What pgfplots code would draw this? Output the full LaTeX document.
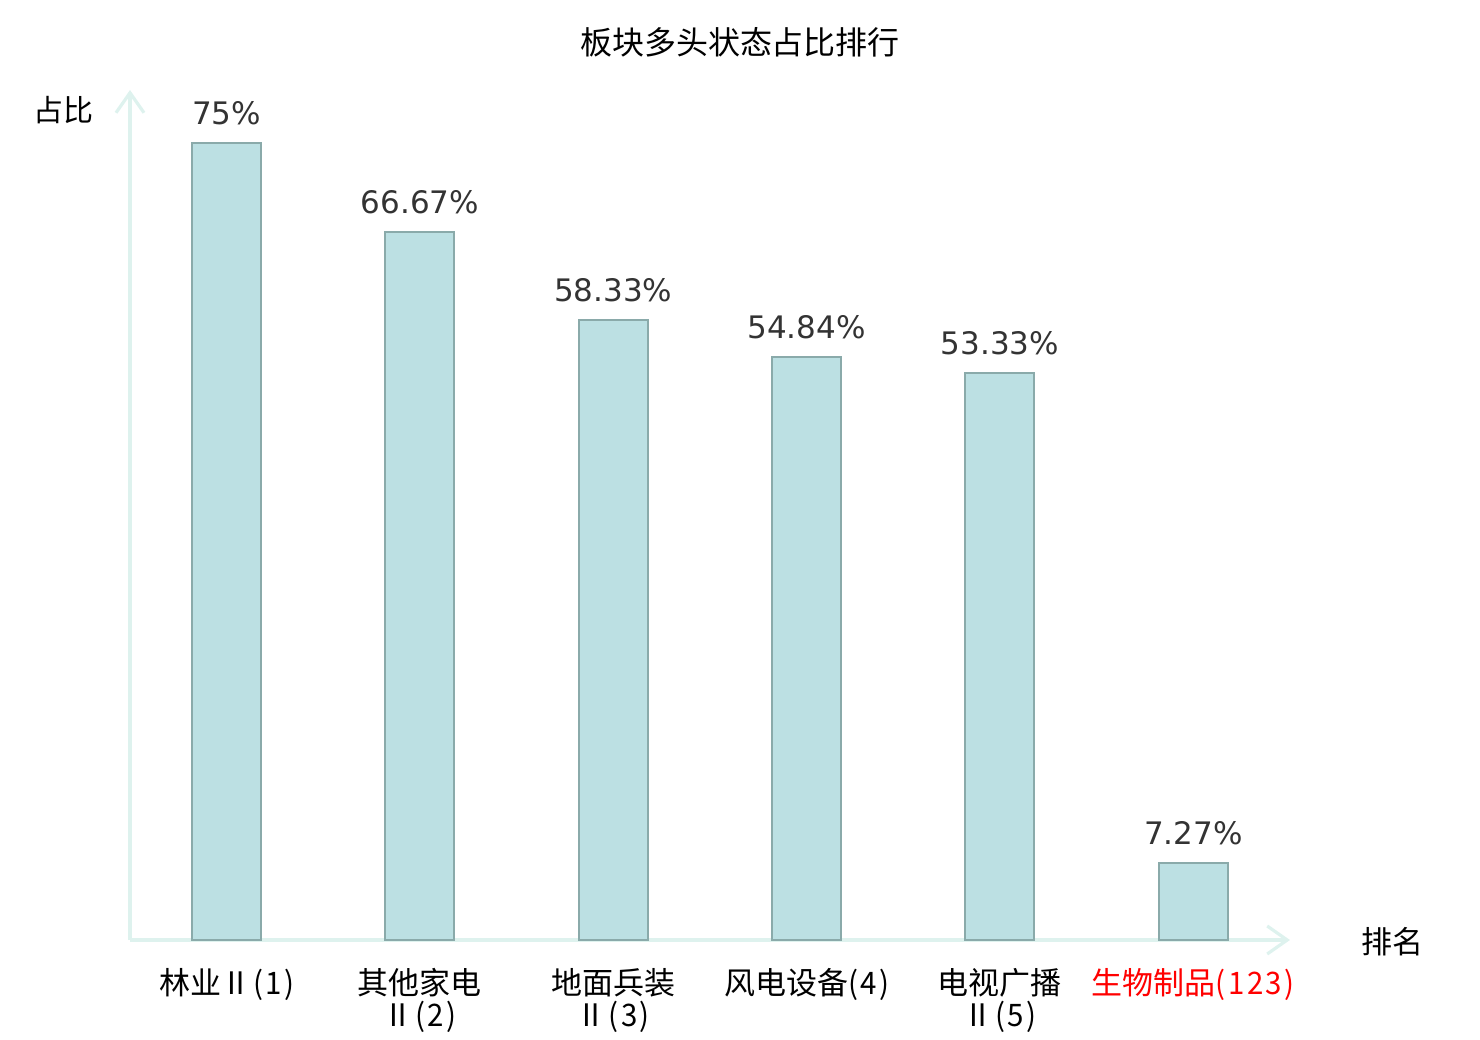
\documentclass[border=0pt]{standalone}
\usepackage{pgfplots}
\pgfplotsset{compat=1.18}
\usepackage{fontspec}
\setmainfont{DejaVu Sans}
\newfontfamily\cjk{Noto Sans CJK SC}
\newfontfamily\thin{Noto Sans CJK SC}[FakeStretch=0.95, LetterSpace=8]
\usetikzlibrary{arrows.meta}
\definecolor{barfill}{RGB}{188,224,227}
\definecolor{baredge}{RGB}{138,170,170}
\definecolor{axcol}{RGB}{222,242,238}
\definecolor{valcol}{RGB}{51,51,51}
\begin{document}
\begin{tikzpicture}
\useasboundingbox (-65pt,-50pt) rectangle (675pt,470pt);
\begin{axis}[
  scale only axis,
  width=580pt, height=425pt,
  xmin=-0.5, xmax=5.5, ymin=0, ymax=80,
  axis lines=left,
  axis line style={draw=axcol, line width=1.6pt},
  x axis line style={-{Straight Barb[length=10pt,width=14pt,line width=1.6pt]}},
  y axis line style={-{Straight Barb[length=10pt,width=14pt,line width=1.6pt]}},
  ytick=\empty,
  xtick={0,1,2,3,4,5},
  xticklabels={
    {\cjk 林业}{\thin Ⅱ(1)},
    {\cjk 其他家电}\\{\thin Ⅱ(2)},
    {\cjk 地面兵装}\\{\thin Ⅱ(3)},
    {\cjk 风电设备}{\thin (4)},
    {\cjk 电视广播}\\{\thin Ⅱ(5)},
    \textcolor{red}{{\cjk 生物制品}{\thin (123)}}
  },
  major tick length=0pt,
  xticklabel style={font=\fontsize{15.5}{16}\selectfont, align=center, anchor=north, yshift=-14pt, inner sep=0pt},
  enlargelimits=false,
  clip=false,
]
\addplot[ybar, bar width=34.5pt, fill=barfill, draw=baredge, line width=1pt,
  point meta=explicit symbolic,
  nodes near coords,
  every node near coord/.append style={font=\fontsize{15.5}{16}\selectfont, text=valcol, anchor=south, inner sep=0pt, yshift=8.5pt}]
  coordinates {
    (0,75) [75\%]
    (1,66.67) [66.67\%]
    (2,58.33) [58.33\%]
    (3,54.84) [54.84\%]
    (4,53.33) [53.33\%]
    (5,7.27) [7.27\%]
  };
\end{axis}
\node[font=\cjk\fontsize{16}{17}\selectfont, anchor=center] at (305pt,449pt) {板块多头状态占比排行};
\node[font=\cjk\fontsize{15}{16}\selectfont, anchor=center] at (-33pt,415pt) {占比};
\node[font=\cjk\fontsize{15.5}{16}\selectfont, anchor=center] at (631pt,-1pt) {排名};
\end{tikzpicture}
\end{document}
